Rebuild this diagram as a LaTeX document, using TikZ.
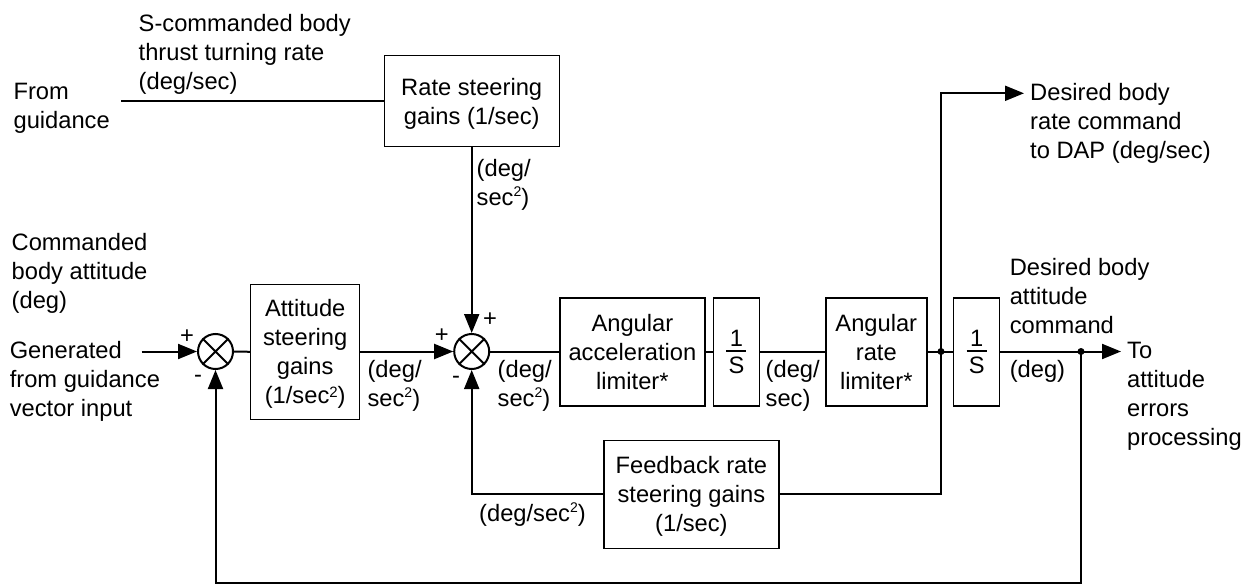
\documentclass[tikz,border=0pt]{standalone}
\usepackage{fontspec}
\setmainfont{Liberation Sans}
\usetikzlibrary{arrows.meta,calc}
\newcommand\dfont{\fontsize{23.7}{29}\selectfont}
\newcommand\tstrut{\rule[-6pt]{0pt}{29pt}}
\newcommand\ssq{\raisebox{9pt}{\fontsize{14}{14}\selectfont 2}}
\newcommand\bsq{\raisebox{6.5pt}{\fontsize{15}{15}\selectfont 2}}
\begin{document}
\begin{tikzpicture}[x=1pt,y=-1pt,
  box/.style={draw, line width=1.4pt, inner sep=0pt, align=center, font=\dfont},
  lbl/.style={inner sep=0pt, align=left, anchor=north west, font=\dfont},
  sgn/.style={inner sep=0pt, font=\dfont},
  sumj/.style={circle, draw, line width=2pt, minimum size=35pt, inner sep=0pt},
  wire/.style={line width=2pt},
  arr/.style={wire, -{Triangle[length=19pt,width=15pt]}},
  dot/.style={circle, fill, inner sep=0pt, minimum size=7pt}]
\useasboundingbox (0,0) rectangle (1252,585);
\fill[white] (0,0) rectangle (1252,585);

% blocks
\node[box, minimum width=175pt, minimum height=91pt] (rate) at (471.7,101.2)
  {\tstrut Rate steering\\\tstrut gains (1/sec)};
\node[box, minimum width=109pt, minimum height=135pt] (att) at (305.2,351.8)
  {\tstrut Attitude\\\tstrut steering\\\tstrut gains\\\tstrut (1/sec\bsq)};
\node[box, minimum width=145pt, minimum height=108pt] (acc) at (632.4,351.9)
  {\tstrut Angular\\\tstrut acceleration\\\tstrut limiter*};
\node[box, minimum width=46pt, minimum height=108pt] (int1) at (736.4,351.9) {};
\node[box, minimum width=101pt, minimum height=108pt] (rlim) at (876.3,351.9)
  {\tstrut Angular\\\tstrut rate\\\tstrut limiter*};
\node[box, minimum width=46pt, minimum height=108pt] (int2) at (976.7,351.9) {};
\node[box, minimum width=175pt, minimum height=108pt] (fb) at (691.4,494.2)
  {\tstrut Feedback rate\\\tstrut steering gains\\\tstrut (1/sec)};

% integrator fractions
\node[sgn, anchor=base] (i1n) at (736.4,346.7) {1};
\node[sgn, anchor=base] (i1d) at (736.4,373.3) {S};
\draw[line width=1.5pt] (726.4,351) -- (746.4,351);
\node[sgn, anchor=base] (i2n) at (976.7,346.7) {1};
\node[sgn, anchor=base] (i2d) at (976.7,373.3) {S};
\draw[line width=1.5pt] (966.7,351) -- (986.7,351);

% summing junctions
\node[sumj] (s1) at (215.5,351.5) {};
\draw[wire] (s1.north east) -- (s1.south west) (s1.north west) -- (s1.south east);
\node[sumj] (s2) at (471.7,351.5) {};
\draw[wire] (s2.north east) -- (s2.south west) (s2.north west) -- (s2.south east);

% signs
\node[sgn] (p1) at (187,337) {+};
\node[sgn] (m1) at (198,379) {-};
\node[sgn] (p2) at (441.7,336) {+};
\node[sgn] (p3) at (490,320) {+};
\node[sgn] (m2) at (456,380) {-};

% labels
\node[lbl] (scmd) at (138.5,8.7) {\tstrut S-commanded body\\thrust turning rate\\(deg/sec)};
\node[lbl] (fromg) at (13.4,76) {\tstrut From\\guidance};
\node[lbl] (dg1) at (476.5,153) {\tstrut (deg/\\sec\ssq)};
\node[lbl] (cmd) at (11.5,227) {\tstrut Commanded\\body attitude\\(deg)};
\node[lbl] (gen) at (9.6,335) {\tstrut Generated\\from guidance\\vector input};
\node[lbl] (dg2) at (367.4,354) {\tstrut (deg/\\sec\ssq)};
\node[lbl] (dg3) at (497.5,354) {\tstrut (deg/\\sec\ssq)};
\node[lbl] (dgfb) at (479,498.7) {\tstrut (deg/sec\ssq)};
\node[lbl] (dg4) at (765.5,354) {\tstrut (deg/\\sec)};
\node[lbl] (desatt) at (1009.6,252) {\tstrut Desired body\\attitude\\command};
\node[lbl] (degout) at (1009.6,354) {\tstrut (deg)};
\node[lbl] (toatt) at (1127,335) {\tstrut To\\attitude\\errors\\processing};
\node[lbl] (desrate) at (1030,77) {\tstrut Desired body\\rate command\\to DAP (deg/sec)};

% coordinates
\coordinate (gin) at (121,101.2);
\coordinate (vin) at (141.6,351.5);
\coordinate (fbl) at (471.7,494.3);
\coordinate (jfb) at (941,494.3);
\coordinate (jtop) at (941,93.3);
\coordinate (dap) at (1024,93.3);
\coordinate (outt) at (1121,351.5);
\coordinate (jbr) at (1081,582.5);
\coordinate (jbl) at (215.5,582.5);
\node[dot] (d1) at (941,351.5) {};
\node[dot] (d2) at (1081,351.5) {};

% connectors
\draw[wire] (gin) -- (rate.west);
\draw[arr] (vin) -- (s1.west);
\draw[wire] (s1.east) -- (att.west);
\draw[arr] (att.east |- s2.west) -- (s2.west);
\draw[arr] (rate.south) -- (s2.north);
\draw[wire] (s2.east) -- (acc.west |- s2.east);
\draw[wire] (acc.east |- s2.east) -- (int1.west |- s2.east);
\draw[wire] (int1.east |- s2.east) -- (rlim.west |- s2.east);
\draw[wire] (rlim.east |- s2.east) -- (int2.west |- s2.east);
\draw[arr] (fb.west |- fbl) -- (fbl) -- (s2.south);
\draw[arr] (fb.east |- jfb) -- (jfb) -- (jtop) -- (dap);
\draw[arr] (int2.east |- s2.east) -- (outt);
\draw[arr] (d2.center) -- (jbr) -- (jbl) -- (s1.south);
\end{tikzpicture}
\end{document}
